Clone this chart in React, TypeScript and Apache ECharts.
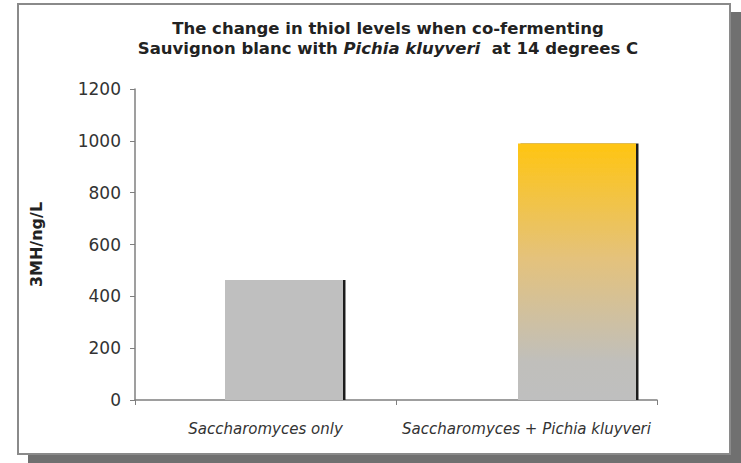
import React, { useEffect, useRef } from "react";
import * as echarts from "echarts";

const categories = ["Saccharomyces only", "Saccharomyces + Pichia kluyveri"];
const thiolValues = [463, 990];
const yTicks = [0, 200, 400, 600, 800, 1000, 1200];
const titleLine1 = "The change in thiol levels when co-fermenting";
const titleLine2a = "Sauvignon blanc with ";
const titleLine2b = "Pichia kluyveri";
const titleLine2c = "  at 14 degrees C";
const yName = "3MH/ng/L";

export default function App() {
  const ref = useRef<HTMLDivElement>(null);
  useEffect(() => {
    if (!ref.current) return;
    const chart = echarts.init(ref.current, undefined, { renderer: "svg" });
    const font = "DejaVu Sans";
    const gridTop = 89;
    const gridHeight = 311;
    chart.setOption({
      animation: false,
      backgroundColor: "#ffffff",
      title: {
        left: 383,
        top: 13,
        textAlign: "center",
        text: `{a|${titleLine1}}\n{a|${titleLine2a}}{i|${titleLine2b}}{a|${titleLine2c}}`,
        textStyle: {
          rich: {
            a: { fontFamily: font, fontWeight: "bold", fontSize: 16.5, color: "#222", lineHeight: 20 },
            i: { fontFamily: font, fontWeight: "bold", fontStyle: "italic", fontSize: 16.5, color: "#222", lineHeight: 20 },
          },
        },
      },
      graphic: {
        elements: [
          { type: "rect", z: -20, shape: { x: 28, y: 12, width: 713, height: 451 }, style: { fill: "#707070" }, silent: true },
          { type: "rect", z: -19, shape: { x: 18, y: 4, width: 712, height: 450 }, style: { fill: "#ffffff", stroke: "#8a8a8a", lineWidth: 2 }, silent: true },
        ],
      },
      grid: [
        { left: 135, top: gridTop, width: 522, height: gridHeight },
        { left: 137.5, top: gridTop, width: 586, height: gridHeight },
      ],
      xAxis: [
        {
          type: "category",
          gridIndex: 0,
          data: categories,
          boundaryGap: true,
          axisLine: { lineStyle: { color: "#7f7f7f", width: 1.5 } },
          axisTick: { show: true, length: 5, alignWithLabel: false, lineStyle: { color: "#7f7f7f" } },
          axisLabel: { fontFamily: font, fontStyle: "italic", fontSize: 15, color: "#333", margin: 21, interval: 0 },
        },
        {
          type: "category",
          gridIndex: 1,
          data: categories,
          show: false,
        },
      ],
      yAxis: [
        {
          type: "value",
          gridIndex: 0,
          min: 0,
          max: 1200,
          interval: 200,
          name: yName,
          nameLocation: "middle",
          nameGap: 91,
          nameTextStyle: { fontFamily: font, fontWeight: "bold", fontSize: 16, color: "#222" },
          axisLine: { show: true, lineStyle: { color: "#7f7f7f", width: 1.5 } },
          axisTick: { show: true, length: 5, lineStyle: { color: "#7f7f7f" } },
          splitLine: { show: false },
          axisLabel: {
            fontFamily: font,
            fontSize: 17,
            color: "#333",
            margin: 14,
            formatter: (v: number) => (yTicks.includes(v) ? String(v) : ""),
          },
        },
        { type: "value", gridIndex: 1, min: 0, max: 1200, show: false },
      ],
      series: [
        {
          type: "bar",
          xAxisIndex: 1,
          yAxisIndex: 1,
          barWidth: 118,
          data: thiolValues.map((v, i) => ({
            value: v,
            itemStyle:
              i === 0
                ? { color: "#bfbfbf" }
                : {
                    color: new echarts.graphic.LinearGradient(0, 0, 0, 1, [
                      { offset: 0, color: "#ffc512" },
                      { offset: 0.45, color: "#e4c27c" },
                      { offset: 0.85, color: "#c0bfbb" },
                      { offset: 1, color: "#bfbfbf" },
                    ]),
                  },
          })),
          itemStyle: { shadowColor: "#1a1a1a", shadowOffsetX: 2.5, shadowOffsetY: 0, shadowBlur: 0 },
        },
      ],
    });
    return () => chart.dispose();
  }, []);
  return <div ref={ref} style={{ position: "fixed", left: 0, top: 0, width: 741, height: 463 }} />;
}
